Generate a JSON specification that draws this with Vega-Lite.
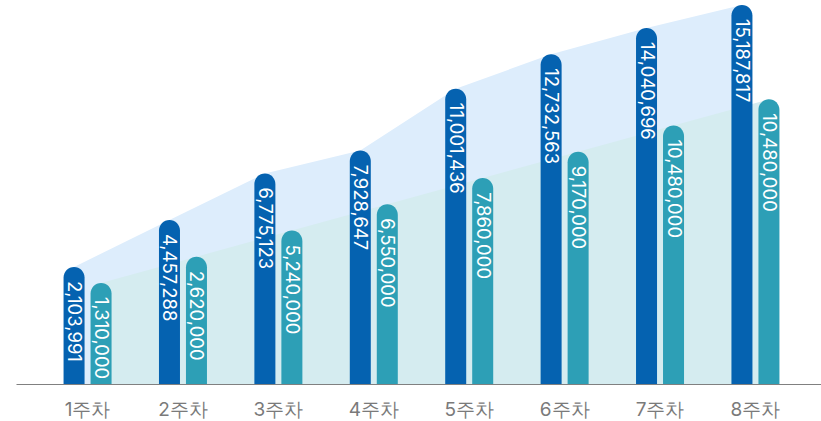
{
  "$schema": "https://vega.github.io/schema/vega-lite/v6.json",
  "autosize": {"type": "none"},
  "width": 805,
  "height": 384,
  "padding": {"left": 16, "top": 0, "right": 0, "bottom": 37},
  "background": "white",
  "config": {"view": {"stroke": null}, "font": "Noto Sans CJK KR"},
  "data": {
    "values": [
      {"week": "1주차", "series": "A", "value": 2103991, "label": "2,103,991"},
      {"week": "1주차", "series": "B", "value": 1310000, "label": "1,310,000"},
      {"week": "2주차", "series": "A", "value": 4457288, "label": "4,457,288"},
      {"week": "2주차", "series": "B", "value": 2620000, "label": "2,620,000"},
      {"week": "3주차", "series": "A", "value": 6775123, "label": "6,775,123"},
      {"week": "3주차", "series": "B", "value": 3930000, "label": "5,240,000"},
      {"week": "4주차", "series": "A", "value": 7928647, "label": "7,928,647"},
      {"week": "4주차", "series": "B", "value": 5240000, "label": "6,550,000"},
      {"week": "5주차", "series": "A", "value": 11001436, "label": "11,001,436"},
      {"week": "5주차", "series": "B", "value": 6550000, "label": "7,860,000"},
      {"week": "6주차", "series": "A", "value": 12732563, "label": "12,732,563"},
      {"week": "6주차", "series": "B", "value": 7860000, "label": "9,170,000"},
      {"week": "7주차", "series": "A", "value": 14040696, "label": "14,040,696"},
      {"week": "7주차", "series": "B", "value": 9170000, "label": "10,480,000"},
      {"week": "8주차", "series": "A", "value": 15187817, "label": "15,187,817"},
      {"week": "8주차", "series": "B", "value": 10480000, "label": "10,480,000"}
    ]
  },
  "encoding": {
    "x": {
      "field": "week", "type": "nominal", "sort": null,
      "scale": {"range": [0, 811], "paddingInner": 0, "paddingOuter": 0.25},
      "axis": {"title": null, "domainColor": "#808080", "domainWidth": 1, "ticks": false, "labelColor": "#7a7a7a", "labelFontSize": 19, "labelFont": "Inter", "labelPadding": 16, "labelAngle": 0}
    },
    "xOffset": {"field": "series", "type": "nominal", "scale": {"paddingInner": 0.222, "paddingOuter": 0.878}},
    "y": {"field": "value", "type": "quantitative", "scale": {"domain": [-3740000, 15440000], "nice": false, "zero": false}, "axis": null}
  },
  "layer": [
    {
      "transform": [{"filter": "datum.series == 'A'"}],
      "mark": {"type": "area", "color": "#ddedfc", "opacity": 1},
      "encoding": {"y2": {"datum": -3740000}}
    },
    {
      "transform": [{"filter": "datum.series == 'B'"}],
      "mark": {"type": "area", "color": "#d5ecf0", "opacity": 1},
      "encoding": {"y2": {"datum": -3740000}}
    },
    {
      "mark": {"type": "bar", "cornerRadiusTopLeft": 10.5, "cornerRadiusTopRight": 10.5},
      "encoding": {
        "y2": {"datum": -3740000},
        "color": {"field": "series", "type": "nominal", "scale": {"domain": ["A", "B"], "range": ["#0562b0", "#2d9fb6"]}, "legend": null}
      }
    },
    {
      "mark": {"type": "text", "angle": 90, "align": "left", "baseline": "middle", "dx": 14, "color": "white", "fontSize": 18.5, "font": "Inter"},
      "encoding": {"text": {"field": "label"}}
    }
  ]
}
